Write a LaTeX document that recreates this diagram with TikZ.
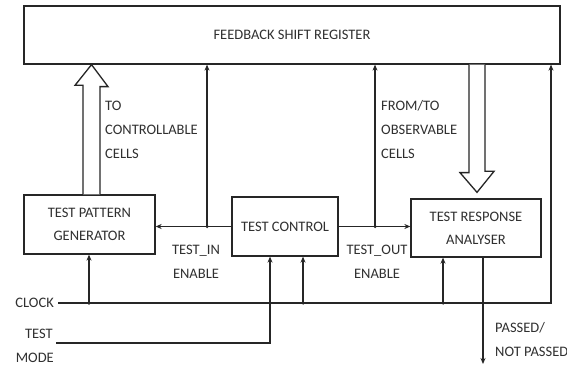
\documentclass[tikz,border=0pt]{standalone}
\usepackage{fontspec}
\setmainfont{Carlito}
\usetikzlibrary{arrows.meta,calc}
\definecolor{ink}{HTML}{262626}
\definecolor{txt}{HTML}{303030}
\tikzset{
  blk/.style={draw=ink, line width=1.3pt, fill=white, inner sep=0pt, align=center,
    font=\fontsize{14.5}{23}\selectfont, text=txt},
  lbl/.style={inner sep=0pt, font=\fontsize{14.5}{24}\selectfont, text=txt},
  wire/.style={draw=ink, line width=1.5pt},
  arr/.style={wire, -{Stealth[length=6pt,width=5pt]}},
  hollow/.style={draw=ink, line width=1.3pt, fill=white, line join=miter},
  dot/.style={circle, fill=ink, inner sep=0pt, minimum size=3.5pt}
}
\begin{document}
\begin{tikzpicture}[x=1pt,y=-1pt]
\useasboundingbox[fill=white] (0,0) rectangle (567,366);

% blocks
\node[blk, minimum width=536pt, minimum height=58pt] (fsr) at (292,35) {FEEDBACK SHIFT REGISTER};
\node[blk, minimum width=131pt, minimum height=59pt] (tpg) at (89.5,224.5) {TEST PATTERN\\GENERATOR};
\node[blk, minimum width=106pt, minimum height=59pt] (tc) at (285,226.5) {TEST CONTROL};
\node[blk, minimum width=130pt, minimum height=58pt] (tra) at (476,228) {TEST RESPONSE\\ANALYSER};

% hollow arrows
\coordinate (upB) at (91.5,0);
\draw[hollow] ($(upB|-tpg.north)+(-8.5,0)$) -- ++(0,-109) -- ++(-8,0) -- (upB|-fsr.south) -- ++(16.5,22) -- ++(-8,0) -- ($(upB|-tpg.north)+(8.5,0)$);
\coordinate (dnB) at (477,0);
\draw[hollow] ($(dnB|-fsr.south)+(-8,0)$) -- ++(0,108) -- ++(-9,0) -- ($(dnB|-tra.north)+(0,-6)$) -- ++(17,-21) -- ++(-9,0) -- ($(dnB|-fsr.south)+(8,0)$);

% test control to generator / analyser
\draw[arr] (tc.west) -- (tc.west -| tpg.east);
\draw[arr] (tc.east) -- (tc.east -| tra.west);
\coordinate (jin) at (207,226.5);
\coordinate (jout) at (375,226.5);
\draw[arr] (jin) -- (jin |- fsr.south);
\draw[arr] (jout) -- (jout |- fsr.south);
\node[dot] at (jin) {};
\node[dot] at (jout) {};

% clock
\coordinate (clkL) at (58,303);
\coordinate (clkR) at (551,303);
\draw[arr] (clkL) -- (clkR) -- (clkR |- fsr.south);
\coordinate (c1) at (89,303);
\coordinate (c2) at (303,303);
\coordinate (c3) at (443,303);
\draw[arr] (c1) -- (c1 |- tpg.south);
\draw[arr] (c2) -- (c2 |- tc.south);
\draw[arr] (c3) -- (c3 |- tra.south);
\node[dot] at (c1) {};
\node[dot] at (c2) {};
\node[dot] at (c3) {};

% test mode
\coordinate (tmL) at (56,343);
\coordinate (tmC) at (270,343);
\draw[arr] (tmL) -- (tmC) -- (tmC |- tc.south);

% output
\coordinate (outS) at (483,0);
\coordinate (outE) at (483,364);
\draw[arr] (outS |- tra.south) -- (outE);

% labels
\node[lbl, anchor=east] (lclk) at (54,303) {CLOCK};
\node[lbl, anchor=east] (ltest) at (53,334) {TEST};
\node[lbl, anchor=east] (lmode) at (54,358) {MODE};
\node[lbl, anchor=west, align=left] (lto) at (105,130) {TO\\CONTROLLABLE\\CELLS};
\node[lbl, anchor=west, align=left] (lfrom) at (381,130) {FROM/TO\\OBSERVABLE\\CELLS};
\node[lbl, align=center] (lin) at (196,262) {TEST\_IN\\ENABLE};
\node[lbl, align=center] (lout) at (377,262) {TEST\_OUT\\ENABLE};
\node[lbl, anchor=west, align=left] (lpass) at (495,340) {PASSED/\\NOT PASSED};
\end{tikzpicture}
\end{document}
